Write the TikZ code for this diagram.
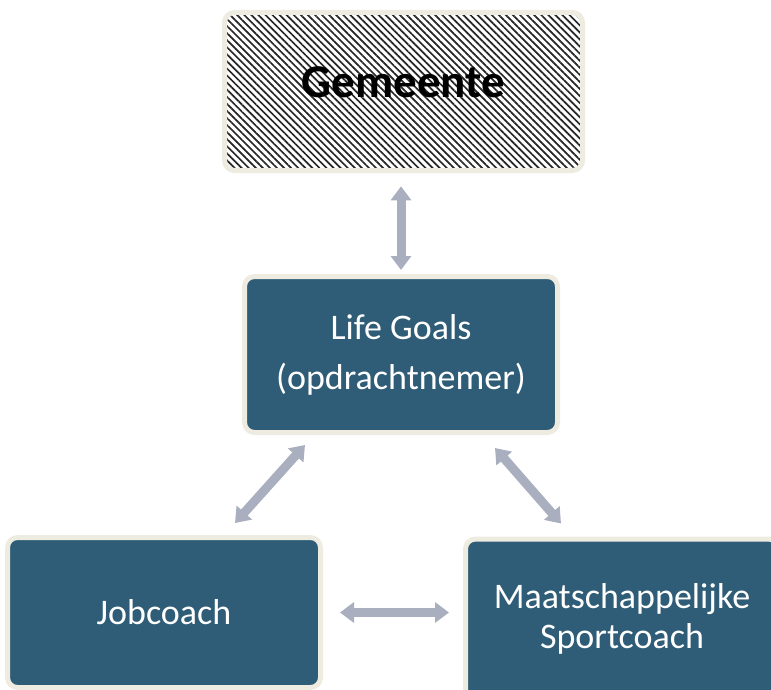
\documentclass[tikz,border=0pt]{standalone}
\usepackage{fontspec}
\setmainfont{Carlito}
\usepackage{tikz}
\usetikzlibrary{positioning}
\usetikzlibrary{calc}
\usetikzlibrary{arrows.meta}
\usetikzlibrary{patterns.meta}
\definecolor{cream}{HTML}{EEECE1}
\definecolor{slate}{HTML}{2F5C76}
\definecolor{arrowgray}{HTML}{A9AFBF}
\begin{document}
\begin{tikzpicture}[x=1pt,y=-1pt,
box/.style={draw=cream, line width=5pt, rounded corners=10pt, fill=slate, text=white,
  minimum width=313pt, align=center, font=\fontsize{36}{40}\selectfont},
gembox/.style={draw=cream, line width=5pt, rounded corners=10pt,
  minimum width=358pt, minimum height=158pt, preaction={fill=white},
  pattern={Lines[angle=-45,distance=5pt,line width=1.7pt]}, pattern color=black!85},
gemtext/.style={font=\fontsize{47}{50}\selectfont\bfseries},
link/.style={arrowgray, line width=9pt,
  {Triangle[width=20pt,length=14pt]}-{Triangle[width=20pt,length=14pt]}}]

\useasboundingbox (0,0) rectangle (771,690);

% boxes
\node[gembox] (gem) at (403.5,91.5) {};
\node[gemtext] (gemlabel) at ([shift={(0,-9)}]gem.center) {Gemeente};
\node[box, minimum height=156pt] (lg) at (401,354.5) {Life Goals\\[10pt](opdrachtnemer)};
\node[box, minimum height=150pt] (job) at (164,612.5) {Jobcoach};
\node[box, minimum height=160pt] (sport) at (622,619) {Maatschappelijke\\Sportcoach};

% links
\draw[link, shorten <=15pt, shorten >=4pt] (gem.south -| lg.north) -- (lg.north);
\draw[link] ([shift={(-96,10)}]lg.south) -- ([shift={(71,-12)}]job.north);
\draw[link] ([shift={(94,13)}]lg.south) -- ([shift={(-61,-13)}]sport.north);
\draw[link, shorten <=17pt, shorten >=14pt] (job.east) -- (job.east -| sport.west);

\end{tikzpicture}
\end{document}
